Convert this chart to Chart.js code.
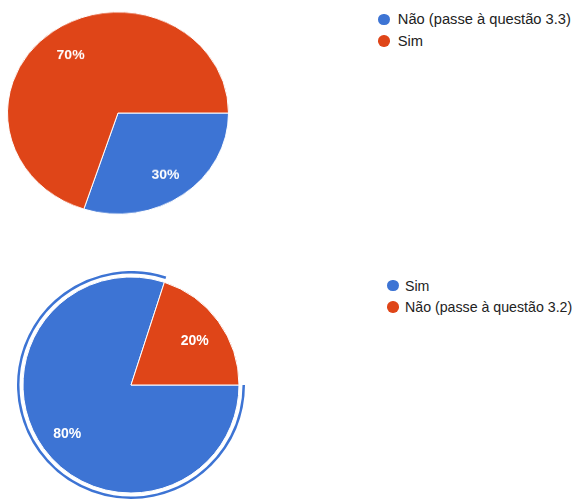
<!DOCTYPE html>
<html>
<head>
<meta charset="utf-8">
<script src="https://cdn.jsdelivr.net/npm/chart.js@4.4.1/dist/chart.umd.min.js"></script>
<style>
  html, body { margin: 0; padding: 0; background: #fff; }
  body { width: 577px; height: 502px; position: relative; overflow: hidden;
         font-family: "Liberation Sans", Arial, sans-serif; color: #222; }
  canvas { position: absolute; }
  #pie1 { left: 7px; top: 1.5px; transform: scaleY(0.914); transform-origin: 50% 50%; }
  #pie2 { left: 16.5px; top: 271px; }
  .row { position: absolute; height: 20px; display: flex; align-items: center; white-space: nowrap; }
  .dot { width: 11.5px; height: 11.5px; border-radius: 50%; flex: none; }
</style>
</head>
<body>
<canvas id="pie1" width="222" height="222"></canvas>
<canvas id="pie2" width="228" height="228"></canvas>
<div id="legend1"></div>
<div id="legend2"></div>

<script>
// question 1 (top) and question 2 (bottom)
const q1Labels = ["Não (passe à questão 3.3)", "Sim"];
const q1Values = [30, 70];
const q2Labels = ["Sim", "Não (passe à questão 3.2)"];
const q2Values = [80, 20];

const BLUE = "#3d74d4";
const RED = "#df4518";
const q1Colors = [BLUE, RED];
const q2Colors = [BLUE, RED];

// percent labels inside the slices
const sliceLabels = {
  id: "sliceLabels",
  afterDatasetsDraw(chart, args, opts) {
    const idx = opts.dataset || 0;
    const meta = chart.getDatasetMeta(idx);
    const values = chart.data.datasets[idx].data;
    const total = values.reduce((a, b) => a + b, 0);
    const ctx = chart.ctx;
    ctx.save();
    ctx.font = 'bold 14px "Liberation Sans", Arial, sans-serif';
    ctx.fillStyle = "#fff";
    ctx.textAlign = "center";
    ctx.textBaseline = "middle";
    meta.data.forEach((arc, i) => {
      const p = arc.getProps(["x", "y", "startAngle", "endAngle", "outerRadius"], true);
      const mid = (p.startAngle + p.endAngle) / 2;
      const r = p.outerRadius * 0.73;
      ctx.fillText(Math.round(values[i] / total * 100) + "%",
        p.x + Math.cos(mid) * r, p.y + Math.sin(mid) * r + 2.5);
    });
    ctx.restore();
  }
};

function baseOptions(labelDataset) {
  return {
    responsive: false,
    maintainAspectRatio: false,
    animation: false,
    events: [],
    rotation: 90,
    layout: { padding: 0 },
    plugins: {
      legend: { display: false },
      tooltip: { enabled: false },
      sliceLabels: { dataset: labelDataset }
    }
  };
}

new Chart(document.getElementById("pie1"), {
  type: "pie",
  data: {
    labels: q1Labels,
    datasets: [{
      data: q1Values,
      backgroundColor: q1Colors,
      borderColor: "#fff",
      borderWidth: 1,
      hoverOffset: 0
    }]
  },
  options: baseOptions(0),
  plugins: [sliceLabels]
});

// bottom pie: outer ring highlights the first slice
new Chart(document.getElementById("pie2"), {
  type: "pie",
  data: {
    labels: q2Labels,
    datasets: [
      { data: q2Values, backgroundColor: [q2Colors[0], "rgba(0,0,0,0)"], borderWidth: 0, hoverOffset: 0, weight: 2.5 },
      { data: q2Values, backgroundColor: "rgba(0,0,0,0)", borderWidth: 0, hoverOffset: 0, weight: 3.5 },
      { data: q2Values, backgroundColor: q2Colors, borderColor: "#fff", borderWidth: 1, hoverOffset: 0, weight: 108 }
    ]
  },
  options: baseOptions(2),
  plugins: [sliceLabels]
});

// html legends
function buildLegend(el, labels, colors, x, y, step, gap, size) {
  labels.forEach((lab, i) => {
    const row = document.createElement("div");
    row.className = "row";
    row.style.left = x + "px";
    row.style.top = (y + i * step - 10) + "px";
    row.style.fontSize = size + "px";
    row.innerHTML = `<span class="dot" style="background:${colors[i]};margin-right:${gap}px"></span><span>${lab}</span>`;
    el.appendChild(row);
  });
}
buildLegend(document.getElementById("legend1"), q1Labels, q1Colors, 378, 19.3, 21.5, 8.3, 14.7);
buildLegend(document.getElementById("legend2"), q2Labels, q2Colors, 387, 285.5, 21.7, 6.5, 14.2);
</script>
</body>
</html>
